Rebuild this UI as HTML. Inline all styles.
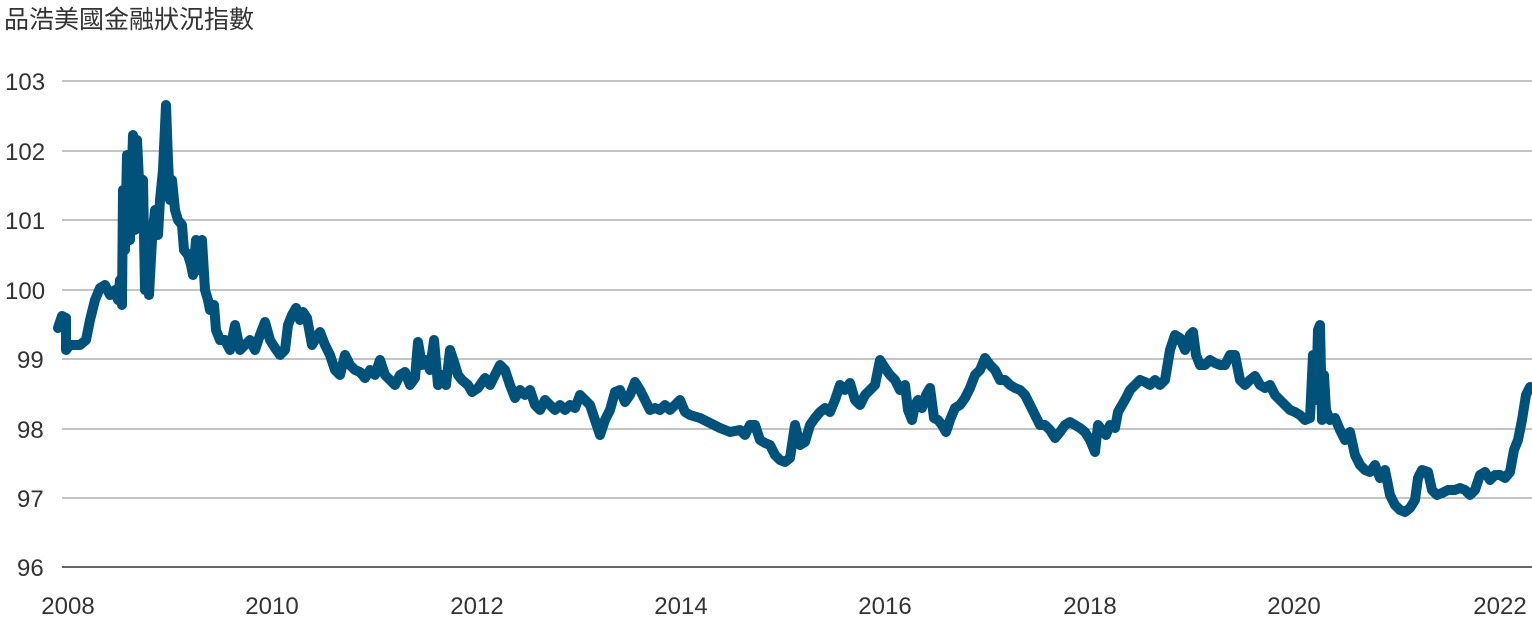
<!DOCTYPE html>
<html><head><meta charset="utf-8"><style>
html,body{margin:0;padding:0;background:#fff;}
svg{display:block;}
text{font-family:"Liberation Sans","Noto Sans CJK TC",sans-serif;fill:#333;}
</style></head><body>
<svg width="1532" height="620" xmlns="http://www.w3.org/2000/svg">
<text x="4" y="28" font-size="25">品浩美國金融狀況指數</text>
<g stroke="#888" stroke-width="1">
<line x1="62" x2="1532" y1="81" y2="81"/>
<line x1="62" x2="1532" y1="151" y2="151"/>
<line x1="62" x2="1532" y1="220" y2="220"/>
<line x1="62" x2="1532" y1="290" y2="290"/>
<line x1="62" x2="1532" y1="359" y2="359"/>
<line x1="62" x2="1532" y1="429" y2="429"/>
<line x1="62" x2="1532" y1="498" y2="498"/>
</g>
<line x1="62" x2="1532" y1="567" y2="567" stroke="#333" stroke-width="1.5"/>
<g font-size="24">
<text x="5" y="90">103</text><text x="5" y="160">102</text><text x="5" y="229">101</text>
<text x="5" y="299">100</text><text x="17" y="368">99</text><text x="17" y="438">98</text>
<text x="17" y="507">97</text><text x="17" y="576">96</text>
</g>
<g font-size="24" text-anchor="middle">
<text x="68" y="614">2008</text><text x="272" y="614">2010</text><text x="477" y="614">2012</text>
<text x="681" y="614">2014</text><text x="885" y="614">2016</text><text x="1090" y="614">2018</text>
<text x="1294" y="614">2020</text><text x="1500" y="614">2022</text>
</g>
<polyline fill="none" stroke="#00527a" stroke-width="10" stroke-linejoin="round" stroke-linecap="round" points="58,328 62,316 66,318 66,350 70,345 80,345 86,340 90,320 95,300 100,288 105,285 110,295 115,290 118,300 120,280 122,305 123,190 125,250 127,155 130,240 133,135 135,230 137,140 140,200 143,180 145,290 147,270 149,295 152,240 155,210 158,235 160,200 163,170 166,105 168,160 170,200 172,180 175,210 178,220 182,225 184,250 188,255 191,265 193,275 196,240 199,270 202,240 205,290 208,300 210,310 214,305 216,330 220,340 225,340 230,350 235,325 240,350 245,345 250,340 255,350 260,335 265,322 270,340 275,348 280,355 285,350 288,325 292,315 296,308 300,320 303,312 307,318 312,345 316,338 320,332 325,345 330,355 335,370 340,375 345,355 350,365 355,370 360,372 365,378 370,370 375,375 380,360 385,375 390,380 395,385 400,375 405,372 410,385 415,378 418,342 422,365 426,360 430,370 434,340 438,385 442,375 446,385 450,350 455,365 458,375 462,380 468,385 472,392 478,388 485,378 490,385 495,375 500,365 505,370 510,385 515,398 520,390 525,395 530,390 535,405 540,410 545,400 550,405 555,410 560,405 565,410 570,405 575,408 580,395 585,400 590,405 595,420 600,435 605,420 610,410 615,392 620,390 625,402 630,395 635,382 640,390 645,400 650,410 655,408 660,410 665,405 670,410 675,405 680,400 685,412 690,415 700,418 710,423 720,428 730,432 740,430 745,435 750,425 755,425 760,440 765,443 770,445 775,455 780,460 785,462 790,458 795,425 800,445 805,442 810,425 815,418 820,412 825,408 830,412 835,400 840,385 845,390 850,383 855,400 860,405 865,395 870,390 875,385 880,360 885,368 890,375 895,380 900,390 905,385 908,410 912,420 915,405 918,400 922,408 926,395 930,388 934,418 938,420 942,425 946,432 950,420 955,408 960,405 965,398 970,388 975,375 980,370 985,358 990,365 995,370 1000,380 1005,380 1010,385 1015,388 1020,390 1025,395 1030,405 1035,415 1040,425 1045,425 1050,430 1055,438 1060,432 1065,425 1070,422 1075,425 1080,428 1085,432 1090,440 1095,452 1098,425 1102,430 1106,435 1110,425 1115,428 1118,412 1122,405 1126,398 1130,390 1135,385 1140,380 1145,382 1150,385 1155,380 1160,385 1165,380 1170,350 1175,335 1180,338 1185,350 1190,335 1193,332 1196,355 1200,365 1205,365 1210,360 1215,363 1220,365 1225,365 1230,355 1235,355 1240,380 1245,385 1250,380 1255,376 1260,385 1265,388 1270,385 1275,395 1280,400 1285,405 1290,410 1295,412 1300,415 1305,420 1310,418 1313,355 1316,400 1318,330 1320,325 1322,420 1324,375 1326,410 1330,420 1335,418 1340,430 1345,440 1350,432 1355,455 1360,465 1365,470 1370,472 1375,465 1380,478 1385,470 1390,495 1395,505 1400,510 1405,512 1410,508 1415,500 1418,478 1422,470 1428,472 1432,490 1437,495 1442,493 1448,490 1455,490 1460,488 1465,490 1470,495 1475,490 1480,475 1485,472 1490,480 1495,475 1500,475 1505,478 1510,472 1514,450 1518,440 1522,420 1526,395 1530,387"/>
</svg>
</body></html>
